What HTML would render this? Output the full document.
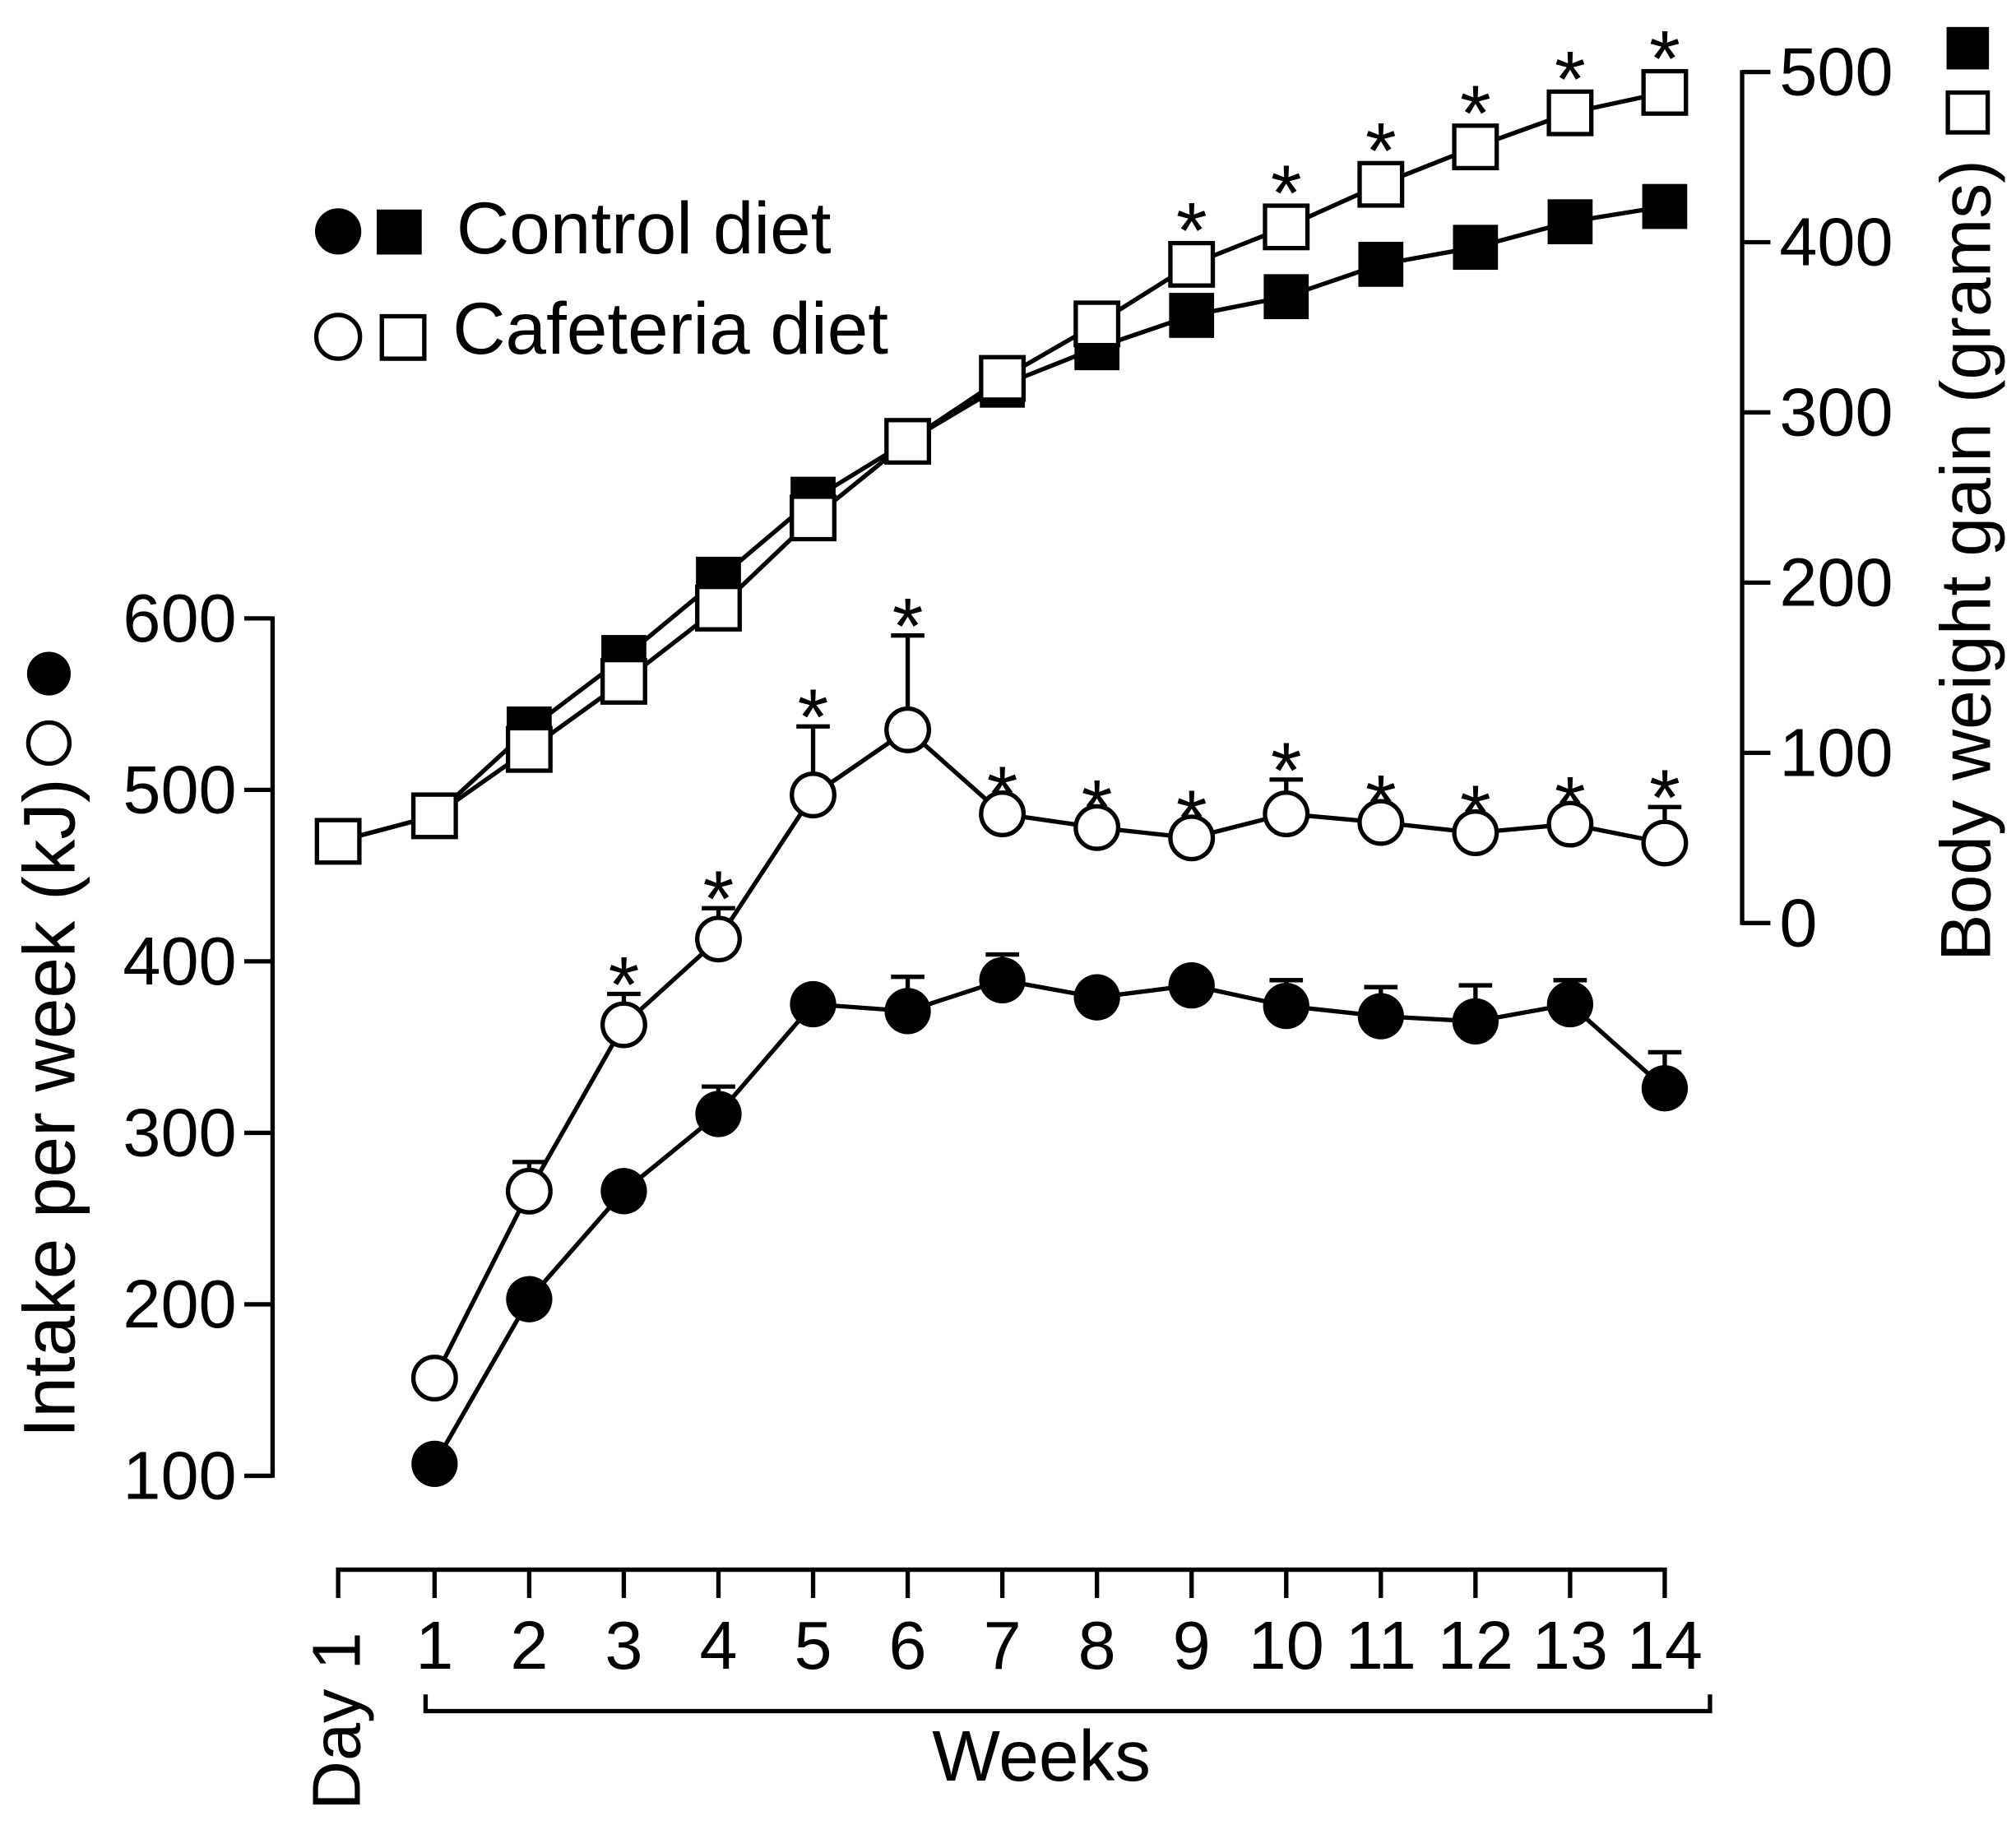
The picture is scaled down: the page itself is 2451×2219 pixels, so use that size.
<!DOCTYPE html>
<html><head><meta charset="utf-8"><style>html,body{margin:0;padding:0;background:#fff}svg{display:block}text{font-family:"Liberation Sans Narrow","Liberation Sans",sans-serif;fill:#000}</style></head>
<body>
<svg id="chart" width="2451" height="2219" viewBox="0 0 1568 1419.6" xmlns="http://www.w3.org/2000/svg"></svg>
<script>
const weekLabels=["Day 1","1","2","3","4","5","6","7","8","9","10","11","12","13","14"];
const intakeTicks=[100,200,300,400,500,600];
const weightTicks=[0,100,200,300,400,500];
const controlIntake=[107,203,266,311,375,371,389,379,386,374,368,365,375,326];
const controlIntakeErr=[0,0,0,16,0,20,15,0,0,15,17,21,14,21];
const cafIntake=[157,266,363,413,497,535,486,478,472,486,481,475,480,469];
const cafIntakeErr=[0,17,18,18,40,55,0,0,0,20,0,0,0,21];
const cafIntakeStar=[0,0,1,1,1,1,1,1,1,1,1,1,1,1];
const controlWeight=[48,63,114,156,202,249,283,316,338,357,368,387,397,412,421];
const cafWeight=[48,63,102,142,185,238,283,320,352,387,409,434,456,476,488];
const cafWeightStar=[0,0,0,0,0,0,0,0,0,1,1,1,1,1,1];

const svg=document.getElementById('chart');
const NS='http://www.w3.org/2000/svg';
function el(t,a,txt){const e=document.createElementNS(NS,t);for(const k in a)e.setAttribute(k,a[k]);if(txt!==undefined)e.textContent=txt;svg.appendChild(e);return e;}
const xPos=i=>i===0?263:338+(i-1)*73.6;
const yL=v=>1148-(v-100)*1.334;
const yR=v=>718-v*1.324;
const SW=3.4;
const AR='font-family:"Liberation Sans",sans-serif';

let e=el('line',{x1:212,y1:yL(100)+1.5,x2:212,y2:yL(600)-1.5,stroke:'#000','stroke-width':SW});

intakeTicks.forEach(v=>{
 let t=el('line',{x1:190,y1:yL(v),x2:212,y2:yL(v),stroke:'#000','stroke-width':SW});
 
 let l=el('text',{x:184,y:yL(v)+18,'font-size':53,'text-anchor':'end'},v);
 
});
e=el('line',{x1:1355,y1:yR(0)+1.5,x2:1355,y2:yR(500)-1.5,stroke:'#000','stroke-width':SW});

weightTicks.forEach(v=>{
 let t=el('line',{x1:1355,y1:yR(v),x2:1377,y2:yR(v),stroke:'#000','stroke-width':SW});
 
 let l=el('text',{x:1384,y:yR(v)+18,'font-size':53},v);
 
});
e=el('line',{x1:xPos(0)-1.7,y1:1221,x2:xPos(14)+1.7,y2:1221,stroke:'#000','stroke-width':SW});

weekLabels.forEach((w,i)=>{
 let t=el('line',{x1:xPos(i),y1:1221,x2:xPos(i),y2:1243,stroke:'#000','stroke-width':SW});
 
 let l;
 if(i===0){l=el('text',{x:0,y:0,'font-size':53,transform:`translate(${xPos(0)+17},1408) rotate(-90)`},w);}
 else l=el('text',{x:xPos(i),y:1298,'font-size':53,'text-anchor':'middle'},w);
 
});
e=el('path',{d:'M331,1318 V1331 H1330 V1318',fill:'none',stroke:'#000','stroke-width':SW});

e=el('text',{x:810,y:1385,'font-size':56,'text-anchor':'middle',style:AR},'Weeks');


e=el('text',{x:0,y:0,'font-size':57,'text-anchor':'middle',transform:'translate(58,862) rotate(-90)',style:AR},'Intake per week (kJ)');

e=el('circle',{cx:38,cy:524,r:17,fill:'#000'});
e=el('circle',{cx:38,cy:578,r:16,fill:'#fff',stroke:'#000','stroke-width':SW});
e=el('text',{x:0,y:0,'font-size':55,'text-anchor':'middle',transform:'translate(1548,436) rotate(-90)',style:AR},'Body weight gain (grams)');

e=el('rect',{x:1514,y:21,width:33,height:33,fill:'#000'});
e=el('rect',{x:1515,y:72,width:31,height:31,fill:'#fff',stroke:'#000','stroke-width':SW});

e=el('circle',{cx:263,cy:180,r:18,fill:'#000'});
e=el('rect',{x:293,y:163,width:35,height:35,fill:'#000'});
e=el('text',{x:355,y:197,'font-size':57,style:AR},'Control diet');
e=el('circle',{cx:263,cy:262,r:17,fill:'#fff',stroke:'#000','stroke-width':SW});
e=el('rect',{x:297,y:246,width:33,height:33,fill:'#fff',stroke:'#000','stroke-width':SW});
e=el('text',{x:352,y:275,'font-size':57,style:AR},'Cafeteria diet');

function star(x,cy){let s=el('text',{x:x,y:cy+36,'font-size':62,'text-anchor':'middle',style:AR},'*');}

function weightSeries(vals,filled,name){
 let d=vals.map((v,i)=>(i?'L':'M')+xPos(i)+','+yR(v)).join(' ');
 let p=el('path',{d:d,fill:'none',stroke:'#000','stroke-width':SW});
 
 vals.forEach((v,i)=>{
  let r=filled?el('rect',{x:xPos(i)-17.5,y:yR(v)-17.5,width:35,height:35,fill:'#000'}):el('rect',{x:xPos(i)-16.5,y:yR(v)-16.5,width:33,height:33,fill:'#fff',stroke:'#000','stroke-width':SW});
  
 });
}
weightSeries(controlWeight,true,'control-weight');
weightSeries(cafWeight,false,'cafeteria-weight');
cafWeight.forEach((v,i)=>{if(cafWeightStar[i])star(xPos(i),yR(v)-41);});

function intakeSeries(vals,errs,filled,name){
 errs.forEach((er,k)=>{if(er>0){const x=xPos(k+1);
  let a=el('line',{x1:x,y1:yL(vals[k]),x2:x,y2:yL(vals[k]+er),stroke:'#000','stroke-width':SW});
  
  let b=el('line',{x1:x-13,y1:yL(vals[k]+er),x2:x+13,y2:yL(vals[k]+er),stroke:'#000','stroke-width':SW});
  }});
 let d=vals.map((v,k)=>(k?'L':'M')+xPos(k+1)+','+yL(v)).join(' ');
 let p=el('path',{d:d,fill:'none',stroke:'#000','stroke-width':SW});
 
 vals.forEach((v,k)=>{
  let c=filled?el('circle',{cx:xPos(k+1),cy:yL(v),r:18,fill:'#000'}):el('circle',{cx:xPos(k+1),cy:yL(v),r:16.5,fill:'#fff',stroke:'#000','stroke-width':SW});
  
 });
}
intakeSeries(controlIntake,controlIntakeErr,true,'control-intake');
intakeSeries(cafIntake,cafIntakeErr,false,'cafeteria-intake');
cafIntake.forEach((v,k)=>{if(cafIntakeStar[k]){const cy=cafIntakeErr[k]>0?yL(v+cafIntakeErr[k])-22:yL(v)-30;star(xPos(k+1),cy);}});
</script>
</body></html>
